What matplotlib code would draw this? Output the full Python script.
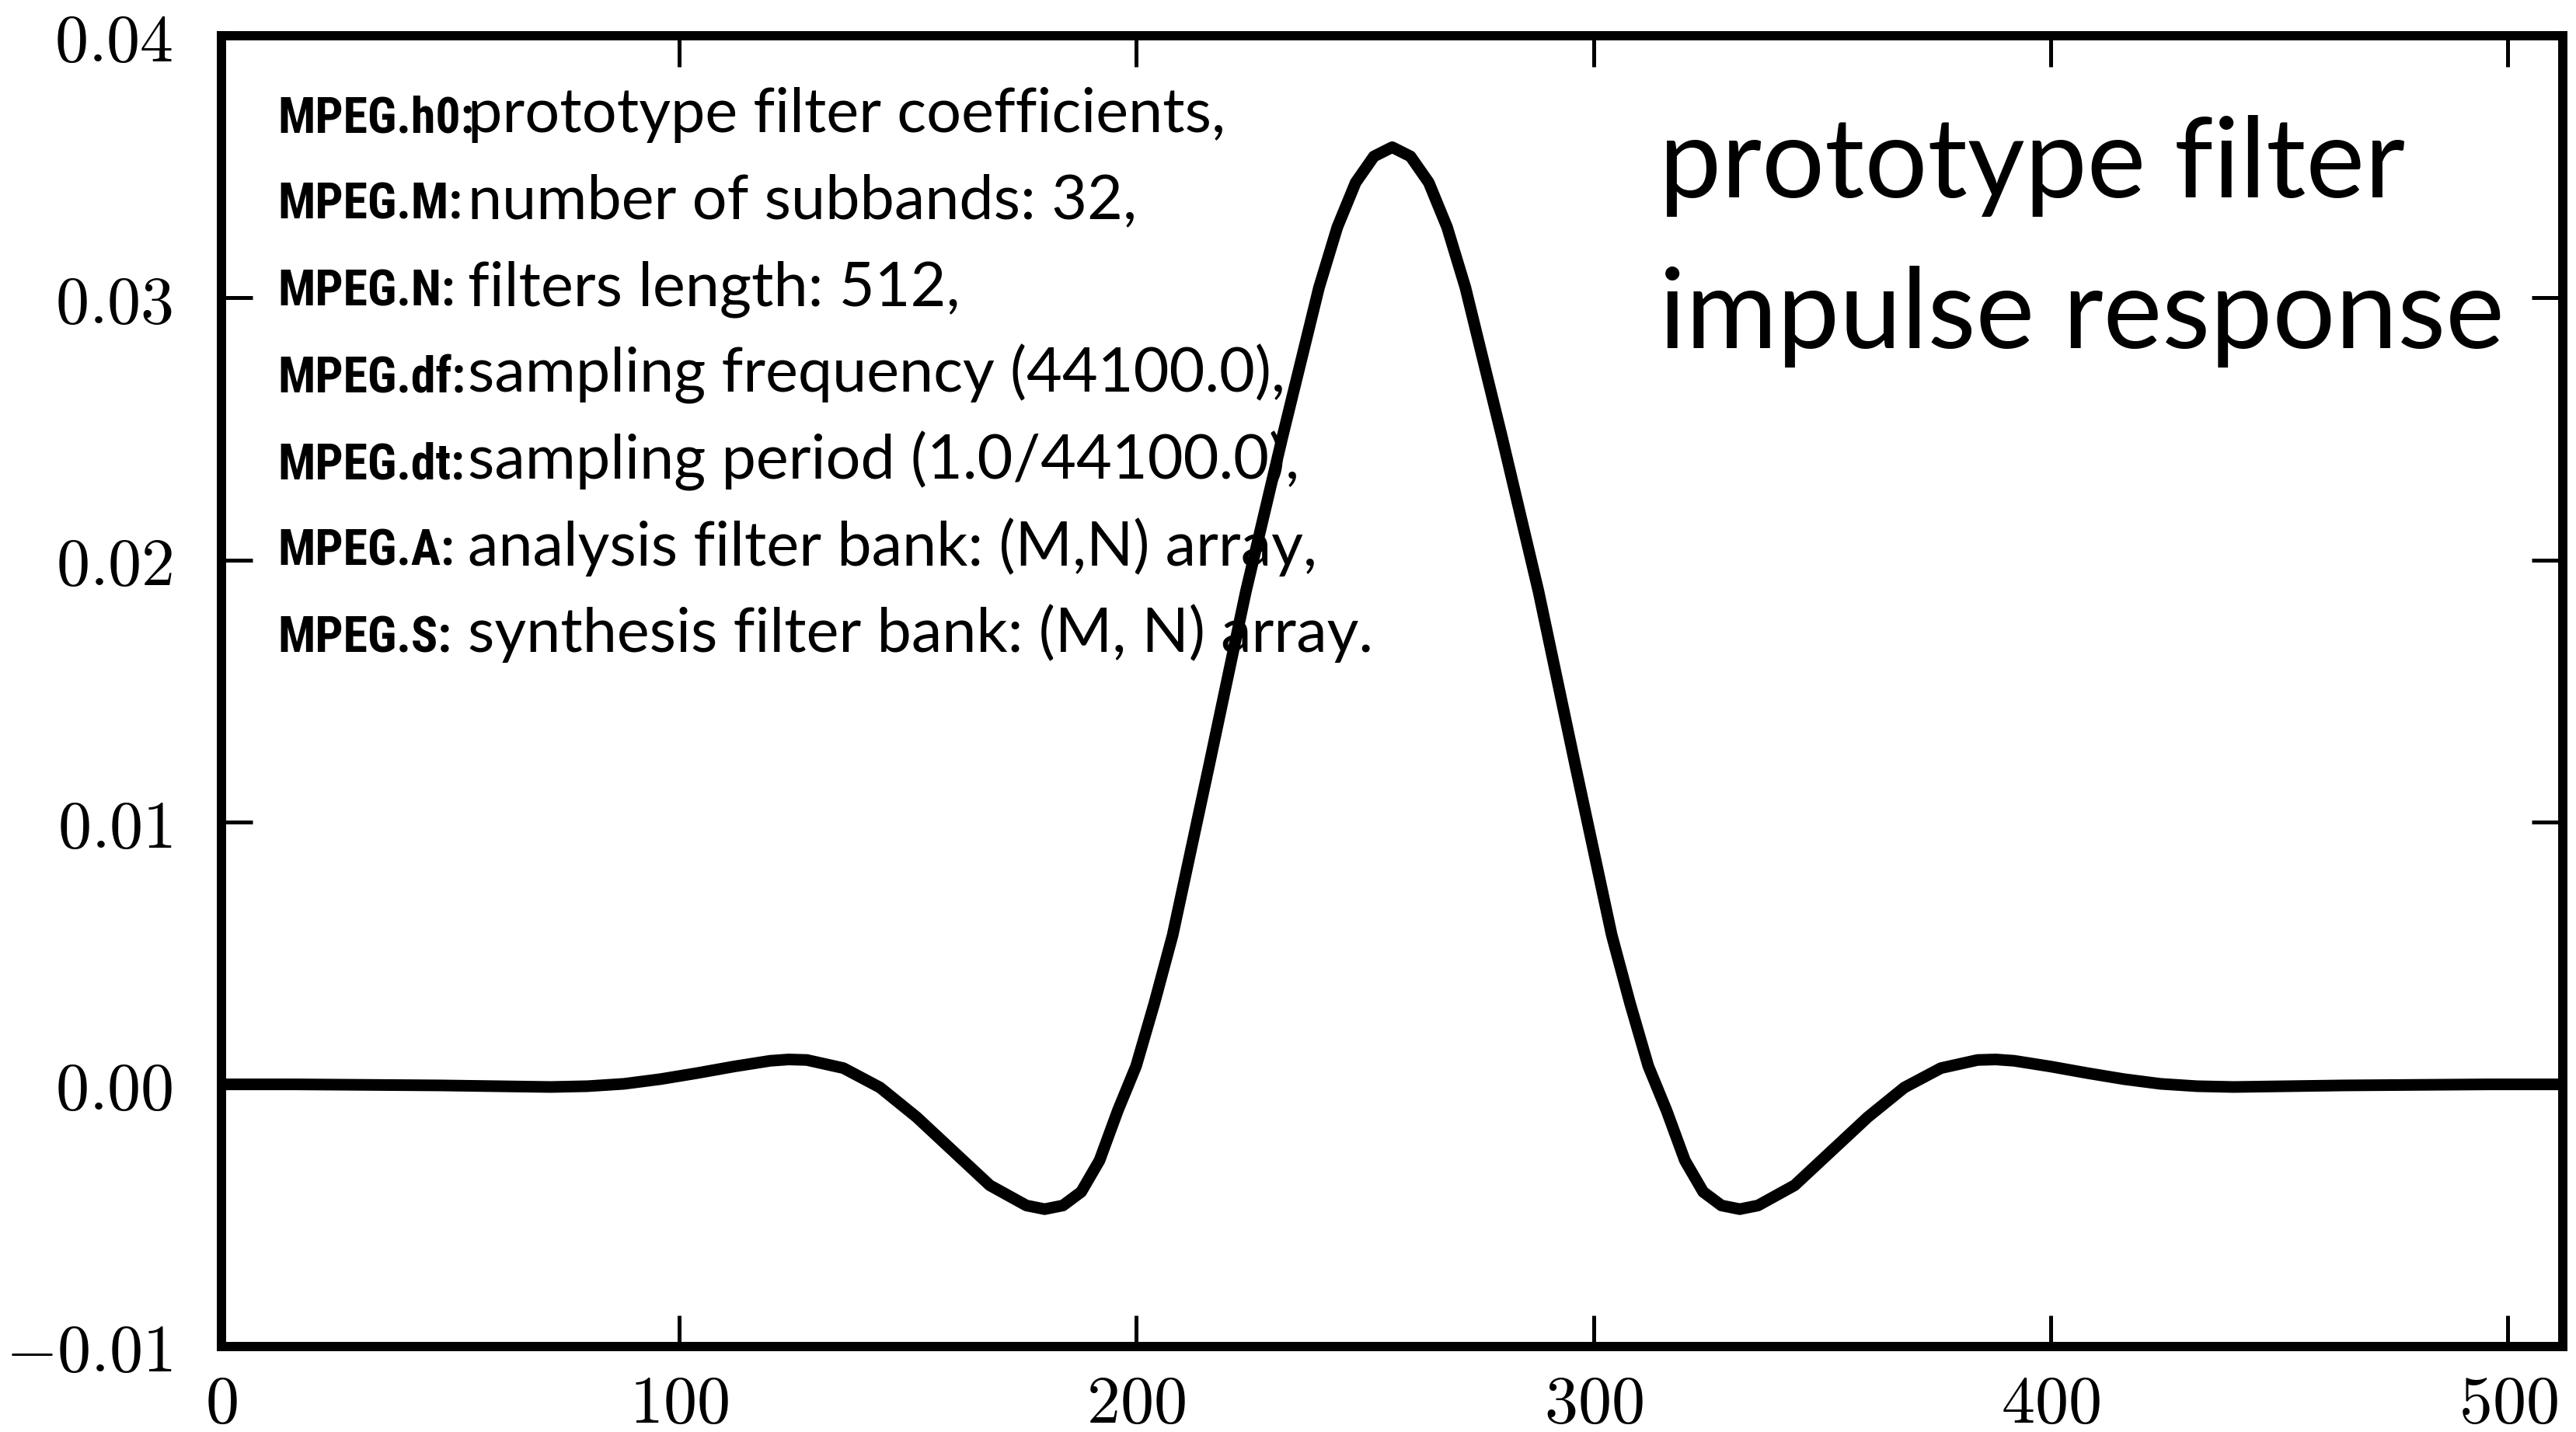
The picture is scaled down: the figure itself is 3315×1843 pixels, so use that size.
# MPEG prototype filter impulse response

import matplotlib
matplotlib.use("Agg")
import matplotlib.pyplot as plt

plt.rcParams['mathtext.fontset'] = 'cm'

# sample index and coefficient value
n = [0, 8, 16, 24, 32, 40, 48, 56, 64, 72, 80, 88, 96, 104, 112, 120, 124, 128,
     136, 144, 152, 160, 168, 176, 180, 184, 188, 192, 196, 200, 204, 208, 216,
     224, 232, 240, 244, 248, 252, 256, 260, 264, 268, 272, 280, 288, 296, 304,
     308, 312, 316, 320, 324, 328, 332, 336, 344, 352, 360, 368, 376, 384, 388,
     392, 400, 408, 416, 424, 432, 440, 448, 456, 464, 472, 480, 488, 496, 504, 511]
h0 = [0.0, 0.0, 0.0, -0.00001, -0.00002, -0.00003, -0.00004, -0.00006, -0.00008,
      -0.0001, -0.00007, 0.00002, 0.0002, 0.00043, 0.00068, 0.0009, 0.00095,
      0.00093, 0.00062, -0.00012, -0.00125, -0.00255, -0.00385, -0.00462,
      -0.00476, -0.00462, -0.0041, -0.0029, -0.001, 0.0007, 0.0031, 0.0057,
      0.0122, 0.0188, 0.0247, 0.0304, 0.0327, 0.0344, 0.0354, 0.03575,
      0.0354, 0.0344, 0.0327, 0.0304, 0.0247, 0.0188, 0.0122, 0.0057,
      0.0031, 0.0007, -0.001, -0.0029, -0.0041, -0.00462, -0.00476, -0.00462,
      -0.00385, -0.00255, -0.00125, -0.00012, 0.00062, 0.00093, 0.00095,
      0.0009, 0.00068, 0.00043, 0.0002, 0.00002, -0.00007, -0.0001, -0.00008,
      -0.00006, -0.00004, -0.00003, -0.00002, -0.00001, 0.0, 0.0, 0.0]

xticks = [0, 100, 200, 300, 400, 500]
xlabels = [r'$0$', r'$100$', r'$200$', r'$300$', r'$400$', r'$500$']
yticks = [-0.01, 0.0, 0.01, 0.02, 0.03, 0.04]
ylabels = [r'$-0.01$', r'$0.00$', r'$0.01$', r'$0.02$', r'$0.03$', r'$0.04$']

keys = ['MPEG.h0:', 'MPEG.M:', 'MPEG.N:', 'MPEG.df:', 'MPEG.dt:', 'MPEG.A:', 'MPEG.S:']
descs = ['prototype filter coefficients,',
         'number of subbands: 32,',
         'filters length: 512,',
         'sampling frequency (44100.0),',
         'sampling period (1.0/44100.0),',
         'analysis filter bank: (M,N) array,',
         'synthesis filter bank: (M, N) array.']

fig = plt.figure(figsize=(33.15, 18.43), dpi=100)
ax = fig.add_axes([0.086, 0.0597, 0.9089, 0.9153])

ax.plot(n, h0, color='black', linewidth=10.8, solid_joinstyle='round')

ax.set_xlim(0, 512)
ax.set_ylim(-0.01, 0.04)
ax.set_xticks(xticks)
ax.set_xticklabels(xlabels)
ax.set_yticks(yticks)
ax.set_yticklabels(ylabels)

for sp in ax.spines.values():
    sp.set_linewidth(8.6)
ax.tick_params(direction='in', length=28.8, width=3.6, top=True, right=True,
               labelsize=62)
ax.tick_params(axis='x', pad=24)
ax.tick_params(axis='y', pad=45)

# key / description block
cond = ['Roboto Condensed', 'Open Sans Condensed', 'Liberation Sans Narrow',
        'DejaVu Sans']
for i in range(len(keys)):
    y = 0.9265 - i * 0.0661
    ax.text(0.0239, y, keys[i], transform=ax.transAxes, va='baseline',
            fontsize=46, fontweight='bold', fontstretch='condensed',
            family=cond)
    ax.text(0.1052, y, descs[i], transform=ax.transAxes, va='baseline',
            fontsize=57, family=['Lato', 'DejaVu Sans'])

# big caption
ax.text(0.614, 0.8767, 'prototype filter', transform=ax.transAxes,
        va='baseline', fontsize=103, family=['Lato', 'DejaVu Sans'])
ax.text(0.614, 0.7617, 'impulse response', transform=ax.transAxes,
        va='baseline', fontsize=103, family=['Lato', 'DejaVu Sans'])

fig.savefig('out.png', dpi=100)
